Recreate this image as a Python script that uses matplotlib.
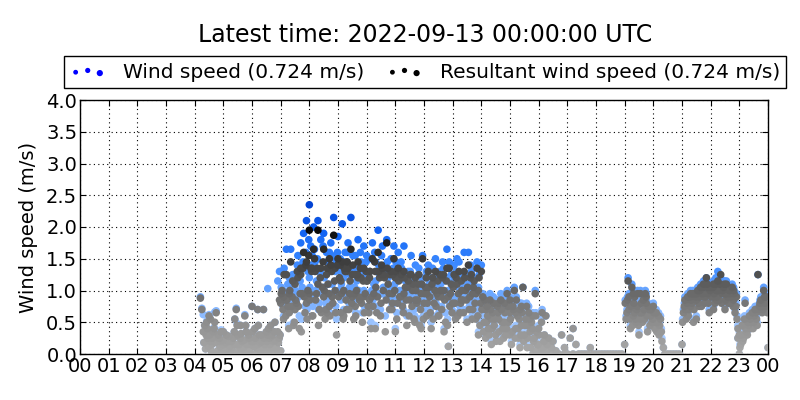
import matplotlib
matplotlib.use("Agg")
import matplotlib.pyplot as plt
from matplotlib.colors import LinearSegmentedColormap, Normalize
from matplotlib.legend_handler import HandlerPathCollection

# (hour of day, wind speed m/s, resultant wind speed m/s)
seg_early = [
    (4.20, 0.90, 0.88), (4.25, 0.72, 0.70), (4.30, 0.62, 0.35), (4.35, 0.45, 0.45),
    (4.40, 0.33, 0.30), (4.45, 0.40, 0.40), (4.45, 0.28, 0.25), (4.50, 0.62, 0.60),
    (4.55, 0.55, 0.55), (4.55, 0.22, 0.20), (4.60, 0.15, 0.15), (4.60, 0.00, 0.00),
    (4.65, 0.36, 0.35), (4.70, 0.66, 0.50), (4.75, 0.68, 0.65), (4.80, 0.05, 0.05),
    (4.85, 0.27, 0.25), (4.90, 0.20, 0.20), (4.90, 0.00, 0.00), (4.95, 0.10, 0.10),
    (5.00, 0.15, 0.15), (5.00, 0.35, 0.35), (5.05, 0.05, 0.05), (5.10, 0.30, 0.30),
    (5.15, 0.10, 0.10), (5.20, 0.20, 0.20), (5.20, 0.00, 0.00), (5.25, 0.05, 0.05),
    (5.30, 0.12, 0.10), (5.35, 0.25, 0.25), (5.40, 0.55, 0.55), (5.45, 0.72, 0.70),
    (5.50, 0.30, 0.30), (5.50, 0.00, 0.00), (5.55, 0.15, 0.15), (5.60, 0.45, 0.45),
    (5.60, 0.10, 0.10), (5.65, 0.20, 0.20), (5.70, 0.10, 0.10), (5.75, 0.62, 0.60),
    (5.80, 0.35, 0.35), (5.80, 0.00, 0.00), (5.85, 0.05, 0.05), (5.90, 0.25, 0.25),
    (5.95, 0.15, 0.15), (6.00, 0.75, 0.75), (6.05, 0.20, 0.20), (6.10, 0.40, 0.40),
    (6.10, 0.00, 0.00), (6.15, 0.10, 0.10), (6.20, 0.70, 0.70), (6.20, 0.15, 0.15),
    (6.25, 0.30, 0.30), (6.30, 0.05, 0.05), (6.35, 0.20, 0.20), (6.40, 0.70, 0.70),
    (6.40, 0.00, 0.00), (6.45, 0.15, 0.15), (6.50, 0.35, 0.35), (6.55, 1.03, 0.30),
    (6.55, 0.10, 0.10), (6.60, 0.25, 0.25), (6.60, 0.05, 0.05), (6.65, 0.45, 0.45),
    (6.70, 0.30, 0.30), (6.70, 0.00, 0.00), (6.75, 0.20, 0.20), (6.80, 0.50, 0.50),
    (6.85, 0.10, 0.10), (6.90, 1.15, 0.35), (6.95, 0.25, 0.25), (7.00, 0.05, 0.05),
]
seg_early_b = [
    (4.32, 0.18, 0.18), (4.38, 0.08, 0.08), (4.42, 0.52, 0.50), (4.48, 0.12, 0.12),
    (4.52, 0.30, 0.30), (4.58, 0.05, 0.05), (4.62, 0.25, 0.25), (4.68, 0.42, 0.40),
    (4.72, 0.18, 0.18), (4.78, 0.02, 0.02), (4.82, 0.32, 0.30), (4.88, 0.12, 0.12),
    (4.92, 0.38, 0.35), (4.98, 0.22, 0.22), (5.02, 0.02, 0.02), (5.08, 0.18, 0.18),
    (5.12, 0.08, 0.08), (5.18, 0.28, 0.28), (5.22, 0.12, 0.12), (5.28, 0.20, 0.20),
    (5.32, 0.02, 0.02), (5.38, 0.35, 0.35), (5.42, 0.15, 0.15), (5.48, 0.48, 0.45),
    (5.52, 0.05, 0.05), (5.58, 0.25, 0.25), (5.62, 0.32, 0.32), (5.68, 0.05, 0.05),
    (5.72, 0.22, 0.22), (5.78, 0.45, 0.45), (5.82, 0.15, 0.15), (5.88, 0.30, 0.30),
    (5.92, 0.05, 0.05), (5.98, 0.20, 0.20), (6.02, 0.35, 0.35), (6.08, 0.12, 0.12),
    (6.12, 0.25, 0.25), (6.18, 0.02, 0.02), (6.22, 0.45, 0.45), (6.28, 0.18, 0.18),
    (6.32, 0.30, 0.30), (6.38, 0.10, 0.10), (6.42, 0.25, 0.25), (6.48, 0.05, 0.05),
    (6.52, 0.20, 0.20), (6.58, 0.40, 0.40), (6.62, 0.15, 0.15), (6.68, 0.28, 0.28),
    (6.72, 0.10, 0.10), (6.78, 0.35, 0.35), (6.82, 0.22, 0.22), (6.88, 0.05, 0.05),
    (6.92, 0.18, 0.18), (6.98, 0.30, 0.30), (6.96, 1.30, 0.85),
]

seg_morning = [
    (7.00, 0.85, 0.80), (7.05, 1.30, 1.00), (7.10, 0.60, 0.55), (7.10, 1.00, 0.90),
    (7.15, 0.90, 0.85), (7.20, 1.65, 1.25), (7.25, 1.10, 0.75), (7.30, 0.70, 0.65),
    (7.30, 1.20, 0.95), (7.35, 1.65, 1.45), (7.40, 1.00, 0.90), (7.45, 0.50, 0.45),
    (7.50, 1.20, 1.10), (7.50, 0.95, 0.70), (7.55, 0.85, 0.80), (7.60, 1.55, 1.20),
    (7.65, 0.60, 0.40), (7.70, 1.75, 1.35), (7.70, 1.35, 1.25), (7.75, 1.05, 0.95),
    (7.80, 1.90, 1.60), (7.85, 0.75, 0.65), (7.90, 2.10, 1.45), (7.90, 1.00, 0.80),
    (7.95, 1.30, 1.00), (8.00, 2.35, 1.95), (8.00, 1.20, 0.95), (8.05, 1.70, 1.35),
    (8.10, 0.90, 0.60), (8.10, 1.55, 1.35), (8.15, 2.00, 1.65), (8.20, 1.45, 1.30),
    (8.25, 1.15, 0.95), (8.30, 2.10, 1.95), (8.30, 1.30, 1.10), (8.35, 0.80, 0.70),
    (8.40, 1.80, 1.35), (8.45, 1.25, 1.05), (8.50, 1.90, 1.65), (8.50, 1.05, 0.90),
    (8.55, 0.70, 0.55), (8.60, 1.60, 1.25), (8.60, 0.85, 0.65), (8.65, 1.35, 1.10),
    (8.70, 0.95, 0.75), (8.70, 1.60, 1.50), (8.75, 1.75, 1.40), (8.80, 1.10, 0.90),
    (8.85, 2.15, 1.87), (8.90, 1.30, 1.00), (8.90, 1.50, 1.35), (8.95, 0.55, 0.30),
    (9.00, 1.85, 1.50), (9.05, 1.40, 1.20), (9.10, 0.85, 0.65), (9.10, 1.30, 1.15),
    (9.15, 2.05, 1.45), (9.20, 1.20, 1.00), (9.20, 0.70, 0.60), (9.25, 1.60, 1.30),
    (9.30, 0.90, 0.70), (9.30, 1.45, 1.30), (9.35, 1.75, 1.35), (9.40, 1.05, 0.95),
    (9.45, 2.15, 1.65), (9.50, 1.35, 1.25), (9.50, 1.05, 0.90), (9.55, 0.75, 0.55),
    (9.60, 1.55, 1.25), (9.60, 0.85, 0.75), (9.65, 1.15, 1.00), (9.70, 1.80, 1.45),
    (9.70, 1.30, 1.20), (9.75, 0.95, 0.85), (9.80, 1.45, 1.20), (9.85, 0.65, 0.50),
    (9.90, 1.70, 1.35), (9.90, 1.00, 0.90), (9.95, 1.20, 0.95),
]
seg_morning_b = [
    (7.02, 1.05, 0.95), (7.08, 0.75, 0.70), (7.12, 1.35, 1.25), (7.18, 0.80, 0.60),
    (7.22, 0.95, 0.85), (7.28, 0.45, 0.40), (7.32, 1.10, 1.00), (7.38, 0.85, 0.75),
    (7.42, 1.25, 1.15), (7.48, 0.70, 0.50), (7.52, 1.00, 0.85), (7.58, 1.40, 1.30),
    (7.62, 0.90, 0.75), (7.68, 1.15, 0.95), (7.72, 0.55, 0.35), (7.78, 1.45, 1.35),
    (7.82, 1.00, 0.90), (7.88, 1.60, 1.40), (7.92, 0.70, 0.55), (7.98, 1.80, 1.55),
    (8.02, 1.05, 0.85), (8.08, 1.40, 1.30), (8.12, 0.75, 0.60), (8.18, 1.65, 1.50),
    (8.22, 1.00, 0.85), (8.28, 1.50, 1.35), (8.32, 0.70, 0.45), (8.38, 1.30, 1.20),
    (8.42, 0.95, 0.65), (8.48, 1.70, 1.45), (8.52, 1.20, 1.00), (8.58, 0.80, 0.70),
    (8.62, 1.45, 1.35), (8.68, 1.10, 0.95), (8.72, 0.65, 0.60), (8.78, 1.55, 1.30),
    (8.82, 0.95, 0.80), (8.88, 1.40, 1.15), (8.92, 0.75, 0.65), (8.98, 1.60, 1.40),
    (9.02, 1.00, 0.90), (9.08, 1.50, 1.40), (9.12, 1.10, 0.95), (9.18, 0.60, 0.55),
    (9.22, 1.45, 1.35), (9.28, 1.00, 0.85), (9.32, 1.60, 1.45), (9.38, 0.80, 0.70),
    (9.42, 1.25, 1.15), (9.48, 0.90, 0.80), (9.52, 1.55, 1.40), (9.58, 1.05, 0.95),
    (9.62, 0.65, 0.60), (9.68, 1.40, 1.25), (9.72, 1.00, 0.90), (9.78, 1.60, 1.35),
    (9.82, 0.90, 0.80), (9.88, 1.30, 1.15), (9.92, 0.75, 0.65), (9.98, 1.45, 1.30),
]

seg_midday = [
    (10.00, 1.55, 1.15), (10.05, 0.90, 0.75), (10.10, 1.30, 1.20), (10.10, 0.95, 0.85),
    (10.15, 0.50, 0.40), (10.20, 1.75, 1.50), (10.25, 1.10, 0.95), (10.30, 1.45, 1.30),
    (10.30, 0.45, 0.40), (10.35, 0.75, 0.65), (10.40, 1.95, 1.60), (10.45, 1.25, 1.20),
    (10.50, 0.95, 0.80), (10.50, 1.30, 1.25), (10.55, 1.70, 1.35), (10.60, 1.35, 1.25),
    (10.65, 0.60, 0.35), (10.70, 1.80, 1.75), (10.75, 1.20, 1.10), (10.80, 0.85, 0.70),
    (10.85, 1.50, 1.30), (10.90, 1.05, 0.95), (10.90, 0.90, 0.80), (10.95, 1.70, 1.50),
    (11.00, 1.30, 1.20), (11.00, 0.40, 0.35), (11.05, 0.65, 0.55), (11.10, 1.60, 1.35),
    (11.15, 1.00, 0.90), (11.20, 1.45, 1.25), (11.25, 0.80, 0.75), (11.30, 1.70, 1.30),
    (11.30, 1.00, 0.95), (11.35, 1.15, 1.05), (11.40, 0.60, 0.45), (11.45, 1.30, 1.15),
    (11.50, 0.95, 0.85), (11.55, 1.55, 1.25), (11.60, 1.10, 1.00), (11.65, 0.70, 0.55),
    (11.70, 1.40, 1.20), (11.70, 0.90, 0.85), (11.75, 0.90, 0.80), (11.80, 1.25, 1.10),
    (11.85, 0.55, 0.45), (11.90, 1.05, 0.95), (11.90, 0.45, 0.40), (11.95, 1.55, 1.50),
    (12.00, 0.85, 0.80), (12.05, 1.20, 1.05), (12.10, 0.70, 0.60), (12.10, 1.00, 0.95),
    (12.15, 1.40, 1.30), (12.20, 1.00, 0.90), (12.25, 0.50, 0.40), (12.30, 1.35, 1.20),
    (12.35, 0.90, 0.80), (12.40, 1.50, 1.30), (12.45, 1.10, 0.95), (12.50, 0.75, 0.60),
    (12.50, 0.95, 0.90), (12.55, 1.30, 1.25), (12.60, 0.95, 0.90), (12.65, 1.45, 1.20),
    (12.70, 1.15, 1.00), (12.70, 0.40, 0.35), (12.75, 0.65, 0.50), (12.80, 1.65, 1.35),
    (12.85, 1.00, 0.90), (12.85, 0.12, 0.12), (12.90, 0.80, 0.75), (12.95, 1.25, 1.10),
    (13.00, 0.85, 0.80), (13.05, 1.40, 1.25), (13.10, 0.60, 0.55), (13.15, 1.50, 1.10),
    (13.20, 1.05, 0.95), (13.25, 0.75, 0.65), (13.30, 1.20, 1.15), (13.30, 0.95, 0.85),
    (13.35, 0.90, 0.85), (13.40, 1.60, 1.30), (13.45, 1.10, 1.00), (13.50, 0.55, 0.50),
    (13.55, 1.60, 1.40), (13.60, 0.95, 0.90), (13.65, 1.30, 1.25), (13.70, 0.80, 0.70),
    (13.70, 1.00, 0.95), (13.75, 1.20, 1.15), (13.80, 0.65, 0.55), (13.85, 1.45, 1.35),
    (13.90, 1.05, 1.00), (13.90, 0.35, 0.30), (13.95, 0.50, 0.45), (14.00, 1.40, 1.30),
]
seg_midday_b = [
    (10.02, 1.25, 1.15), (10.08, 0.70, 0.65), (10.12, 1.50, 1.30), (10.18, 1.00, 0.90),
    (10.22, 0.85, 0.75), (10.28, 1.60, 1.45), (10.32, 1.15, 1.05), (10.38, 0.95, 0.90),
    (10.42, 1.40, 1.30), (10.48, 0.70, 0.60), (10.52, 1.55, 1.40), (10.58, 1.05, 1.00),
    (10.62, 1.25, 1.20), (10.68, 0.90, 0.85), (10.72, 1.45, 1.35), (10.78, 1.00, 0.95),
    (10.82, 1.30, 1.25), (10.88, 0.75, 0.70), (10.92, 1.35, 1.25), (10.98, 1.10, 1.00),
    (11.02, 1.45, 1.30), (11.08, 0.85, 0.80), (11.12, 1.20, 1.15), (11.18, 0.95, 0.90),
    (11.22, 1.35, 1.20), (11.28, 0.70, 0.65), (11.32, 1.25, 1.20), (11.38, 0.90, 0.85),
    (11.42, 1.15, 1.05), (11.48, 0.65, 0.60), (11.52, 1.30, 1.25), (11.58, 0.85, 0.75),
    (11.62, 1.20, 1.10), (11.68, 0.60, 0.50), (11.72, 1.10, 1.00), (11.78, 0.95, 0.85),
    (11.82, 1.35, 1.25), (11.88, 0.75, 0.70), (11.92, 1.20, 1.10), (11.98, 0.60, 0.55),
    (12.02, 1.00, 0.95), (12.08, 1.30, 1.20), (12.12, 0.85, 0.80), (12.18, 1.10, 1.05),
    (12.22, 0.70, 0.65), (12.28, 1.20, 1.10), (12.32, 0.60, 0.55), (12.38, 1.05, 1.00),
    (12.42, 0.80, 0.75), (12.48, 1.25, 1.15), (12.52, 0.65, 0.60), (12.58, 1.10, 1.00),
    (12.62, 0.75, 0.70), (12.68, 1.35, 1.25), (12.72, 0.90, 0.85), (12.78, 1.20, 1.15),
    (12.82, 0.55, 0.45), (12.88, 1.45, 1.35), (12.92, 1.00, 0.95), (12.98, 0.70, 0.65),
    (13.02, 1.15, 1.05), (13.08, 0.90, 0.80), (13.12, 1.30, 1.20), (13.18, 0.65, 0.60),
    (13.22, 1.45, 1.30), (13.28, 0.85, 0.80), (13.32, 1.05, 1.00), (13.38, 0.70, 0.65),
    (13.42, 1.25, 1.20), (13.48, 0.90, 0.85), (13.52, 1.10, 1.05), (13.58, 0.75, 0.70),
    (13.62, 1.40, 1.20), (13.68, 0.60, 0.55), (13.72, 1.15, 1.05), (13.78, 0.85, 0.80),
    (13.82, 1.05, 0.95), (13.88, 0.70, 0.60), (13.92, 1.25, 1.20), (13.98, 0.85, 0.80),
]

seg_afternoon = [
    (14.05, 0.95, 0.90), (14.10, 0.60, 0.50), (14.15, 0.30, 0.25), (14.15, 0.75, 0.70),
    (14.20, 0.80, 0.75), (14.25, 0.45, 0.40), (14.30, 0.95, 0.85), (14.35, 0.20, 0.15),
    (14.35, 0.60, 0.55), (14.40, 0.70, 0.65), (14.45, 0.50, 0.45), (14.50, 0.35, 0.30),
    (14.55, 0.85, 0.75), (14.60, 0.60, 0.55), (14.60, 0.85, 0.80), (14.65, 0.25, 0.20),
    (14.70, 0.75, 0.70), (14.75, 0.45, 0.40), (14.80, 0.90, 0.80), (14.80, 0.55, 0.50),
    (14.85, 0.30, 0.30), (14.90, 1.00, 0.95), (14.95, 0.55, 0.50), (15.00, 0.70, 0.65),
    (15.00, 0.90, 0.85), (15.05, 0.20, 0.15), (15.10, 0.85, 0.75), (15.15, 1.05, 1.00),
    (15.20, 0.45, 0.40), (15.20, 0.70, 0.65), (15.25, 0.65, 0.60), (15.30, 0.25, 0.25),
    (15.35, 0.80, 0.70), (15.35, 0.15, 0.10), (15.40, 0.50, 0.45), (15.40, 0.80, 0.75),
    (15.45, 1.05, 1.05), (15.50, 0.35, 0.30), (15.55, 0.60, 0.55), (15.60, 0.15, 0.10),
    (15.60, 0.50, 0.45), (15.65, 0.75, 0.65), (15.70, 0.40, 0.35), (15.75, 0.55, 0.50),
    (15.80, 0.00, 0.00), (15.80, 0.65, 0.60), (15.85, 0.30, 0.25), (15.90, 0.65, 0.60),
    (15.90, 0.05, 0.05), (15.95, 0.20, 0.15), (16.00, 0.45, 0.40), (16.00, 0.00, 0.00),
    (16.05, 0.05, 0.05), (16.10, 0.55, 0.50), (16.15, 0.10, 0.10), (16.20, 0.30, 0.30),
    (16.20, 0.00, 0.00), (16.25, 0.60, 0.60), (16.30, 0.15, 0.15), (16.40, 0.00, 0.00),
    (16.50, 0.20, 0.20), (16.60, 0.05, 0.05), (16.80, 0.30, 0.30), (16.90, 0.10, 0.10),
    (17.00, 0.00, 0.00), (17.10, 0.25, 0.25), (17.20, 0.40, 0.40), (17.30, 0.15, 0.15),
    (17.40, 0.00, 0.00), (17.50, 0.00, 0.00), (17.60, 0.00, 0.00), (17.70, 0.00, 0.00),
    (17.80, 0.10, 0.10), (17.90, 0.00, 0.00), (18.00, 0.00, 0.00), (18.10, 0.00, 0.00),
    (18.20, 0.00, 0.00), (18.30, 0.00, 0.00), (18.40, 0.00, 0.00), (18.50, 0.00, 0.00),
    (18.60, 0.00, 0.00), (18.70, 0.00, 0.00), (18.80, 0.00, 0.00), (18.90, 0.00, 0.00),
    (16.70, 0.00, 0.00), (16.90, 0.00, 0.00), (17.20, 0.00, 0.00),
]
seg_afternoon_b = [
    (14.02, 0.75, 0.70), (14.08, 0.40, 0.35), (14.12, 0.90, 0.85), (14.18, 0.55, 0.50),
    (14.22, 0.65, 0.60), (14.28, 0.35, 0.30), (14.32, 0.75, 0.70), (14.38, 0.45, 0.40),
    (14.42, 0.90, 0.80), (14.48, 0.60, 0.55), (14.52, 0.25, 0.20), (14.58, 0.70, 0.65),
    (14.62, 0.40, 0.35), (14.68, 0.95, 0.85), (14.72, 0.55, 0.50), (14.78, 0.30, 0.25),
    (14.82, 0.70, 0.65), (14.88, 0.45, 0.40), (14.92, 0.80, 0.75), (14.98, 0.35, 0.30),
    (15.02, 0.60, 0.55), (15.08, 0.40, 0.35), (15.12, 0.75, 0.70), (15.18, 0.30, 0.25),
    (15.22, 0.90, 0.85), (15.28, 0.45, 0.40), (15.32, 0.60, 0.55), (15.38, 0.35, 0.30),
    (15.42, 0.70, 0.65), (15.48, 0.20, 0.20), (15.52, 0.50, 0.45), (15.58, 0.80, 0.75),
    (15.62, 0.30, 0.25), (15.68, 0.60, 0.55), (15.72, 0.10, 0.10), (15.78, 0.45, 0.40),
    (15.82, 0.25, 0.20), (15.88, 1.00, 0.95), (15.92, 0.40, 0.35), (15.98, 0.15, 0.15),
    (16.02, 0.30, 0.30), (16.08, 0.10, 0.10), (16.12, 0.70, 0.65), (16.18, 0.20, 0.20),
    (16.28, 0.05, 0.05), (16.35, 0.25, 0.25), (16.45, 0.10, 0.10),
]

seg_evening = [
    (19.00, 0.15, 0.15), (19.05, 0.60, 0.55), (19.10, 0.90, 0.85), (19.15, 0.75, 0.70),
    (19.15, 0.95, 0.90), (19.20, 0.45, 0.40), (19.25, 1.10, 1.05), (19.30, 0.65, 0.60),
    (19.30, 1.00, 0.95), (19.35, 0.95, 0.90), (19.35, 0.70, 0.65), (19.40, 0.55, 0.50),
    (19.45, 0.80, 0.75), (19.45, 1.00, 0.95), (19.50, 0.35, 0.30), (19.55, 1.00, 0.95),
    (19.55, 0.60, 0.55), (19.60, 0.70, 0.65), (19.65, 0.90, 0.85), (19.70, 0.60, 0.55),
    (19.75, 0.85, 0.80), (19.75, 0.95, 0.90), (19.80, 0.40, 0.35), (19.85, 0.75, 0.70),
    (19.90, 0.65, 0.60), (19.95, 0.55, 0.50), (20.00, 0.80, 0.75), (20.05, 0.45, 0.40),
    (20.10, 0.70, 0.65), (20.15, 0.55, 0.50), (20.20, 0.35, 0.30), (20.25, 0.60, 0.55),
    (20.30, 0.25, 0.20), (20.35, 0.10, 0.10), (20.40, 0.00, 0.00), (20.50, 0.00, 0.00),
    (20.60, 0.00, 0.00), (20.70, 0.00, 0.00), (20.80, 0.00, 0.00), (20.90, 0.00, 0.00),
]
seg_evening_b = [
    (19.02, 0.85, 0.80), (19.08, 0.70, 0.65), (19.12, 1.20, 1.15), (19.18, 0.60, 0.55),
    (19.22, 0.80, 0.75), (19.28, 0.50, 0.45), (19.32, 0.85, 0.80), (19.38, 0.60, 0.55),
    (19.42, 0.75, 0.70), (19.48, 0.50, 0.45), (19.52, 0.70, 0.65), (19.58, 0.85, 0.80),
    (19.62, 0.55, 0.50), (19.68, 0.75, 0.70), (19.72, 1.00, 0.95), (19.78, 0.65, 0.60),
    (19.82, 0.80, 0.75), (19.88, 0.50, 0.45), (19.92, 0.75, 0.70), (19.98, 0.60, 0.55),
    (20.02, 0.70, 0.65), (20.08, 0.55, 0.50), (20.12, 0.40, 0.35), (20.18, 0.65, 0.60),
    (20.22, 0.50, 0.45), (20.28, 0.40, 0.35),
]

seg_night = [
    (21.00, 0.15, 0.15), (21.05, 0.70, 0.65), (21.10, 0.90, 0.85), (21.15, 0.60, 0.55),
    (21.20, 0.95, 0.90), (21.25, 0.75, 0.70), (21.30, 1.00, 0.95), (21.30, 0.80, 0.75),
    (21.35, 0.85, 0.80), (21.40, 0.55, 0.50), (21.45, 1.00, 0.95), (21.50, 0.90, 0.85),
    (21.50, 0.60, 0.55), (21.55, 1.05, 1.00), (21.60, 0.80, 0.75), (21.60, 0.95, 0.90),
    (21.65, 1.10, 1.05), (21.70, 0.95, 0.90), (21.75, 1.15, 1.10), (21.80, 0.85, 0.80),
    (21.85, 1.20, 1.20), (21.90, 1.00, 0.95), (21.90, 1.10, 1.05), (21.95, 0.70, 0.65),
    (22.00, 1.10, 1.05), (22.05, 0.95, 0.90), (22.10, 1.15, 1.10), (22.10, 0.75, 0.70),
    (22.15, 0.85, 0.80), (22.20, 1.05, 1.00), (22.20, 0.90, 0.85), (22.25, 1.30, 1.15),
    (22.30, 0.90, 0.85), (22.35, 1.20, 1.25), (22.40, 1.00, 0.95), (22.45, 1.10, 1.05),
    (22.50, 0.75, 0.70), (22.50, 1.00, 0.95), (22.55, 1.15, 1.10), (22.60, 0.95, 0.90),
    (22.65, 1.05, 1.00), (22.70, 0.85, 0.80), (22.75, 1.10, 1.05), (22.80, 0.90, 0.85),
    (22.80, 1.05, 1.00), (22.85, 0.70, 0.65), (22.90, 0.95, 0.90), (22.95, 0.45, 0.40),
    (22.95, 0.25, 0.25), (23.00, 0.35, 0.30), (23.00, 0.00, 0.00), (23.05, 0.20, 0.15),
    (23.10, 0.50, 0.45), (23.15, 0.30, 0.25), (23.20, 0.85, 0.80), (23.25, 0.40, 0.35),
    (23.30, 0.55, 0.50), (23.35, 0.65, 0.60), (23.40, 0.45, 0.40), (23.45, 0.70, 0.65),
    (23.50, 0.55, 0.50), (23.55, 0.75, 0.70), (23.60, 0.60, 0.55), (23.65, 1.25, 1.25),
    (23.70, 0.80, 0.75), (23.75, 0.90, 0.85), (23.80, 0.70, 0.65), (23.85, 1.05, 1.00),
    (23.90, 0.85, 0.80), (23.95, 0.95, 0.90), (24.00, 0.10, 0.10),
]
seg_night_b = [
    (21.02, 0.55, 0.50), (21.08, 0.80, 0.75), (21.12, 0.75, 0.70), (21.18, 0.85, 0.80),
    (21.22, 0.65, 0.60), (21.28, 0.95, 0.90), (21.32, 0.90, 0.85), (21.38, 1.00, 0.95),
    (21.42, 0.75, 0.70), (21.48, 0.95, 0.90), (21.52, 1.00, 0.95), (21.58, 0.85, 0.80),
    (21.62, 1.05, 1.00), (21.68, 0.80, 0.75), (21.72, 1.00, 0.95), (21.78, 1.10, 1.05),
    (21.82, 0.95, 0.90), (21.88, 1.15, 1.10), (21.92, 0.85, 0.80), (21.98, 1.05, 1.00),
    (22.02, 0.95, 0.90), (22.08, 1.10, 1.05), (22.12, 1.00, 0.95), (22.18, 1.20, 1.10),
    (22.22, 0.95, 0.90), (22.28, 1.05, 1.00), (22.32, 1.15, 1.10), (22.38, 0.85, 0.80),
    (22.42, 1.05, 1.00), (22.48, 1.15, 1.10), (22.52, 0.90, 0.85), (22.58, 1.00, 0.95),
    (22.62, 0.85, 0.80), (22.68, 1.00, 0.95), (22.72, 0.95, 0.90), (22.78, 0.80, 0.75),
    (22.82, 1.00, 0.95), (22.88, 0.80, 0.75), (22.92, 0.60, 0.55), (23.02, 0.15, 0.10),
    (23.08, 0.35, 0.30), (23.12, 0.25, 0.20), (23.18, 0.60, 0.55), (23.22, 0.45, 0.40),
    (23.28, 0.35, 0.30), (23.32, 0.50, 0.45), (23.38, 0.60, 0.55), (23.42, 0.55, 0.50),
    (23.48, 0.45, 0.40), (23.52, 0.65, 0.60), (23.58, 0.70, 0.65), (23.62, 0.50, 0.45),
    (23.68, 0.75, 0.70), (23.72, 0.85, 0.80), (23.78, 0.80, 0.75), (23.82, 0.75, 0.70),
    (23.88, 0.95, 0.90), (23.92, 0.80, 0.75), (23.98, 0.70, 0.65),
]

segments = [seg_early, seg_early_b, seg_morning, seg_morning_b, seg_midday, seg_midday_b,
            seg_afternoon, seg_afternoon_b, seg_evening, seg_evening_b, seg_night, seg_night_b]
points = sorted((p for seg in segments for p in seg), key=lambda p: p[2])
hours = [p[0] for p in points]
wind_speed = [p[1] for p in points]
resultant_speed = [p[2] for p in points]

tick_labels = ["%02d" % (h % 24) for h in range(25)]
title = "Latest time: 2022-09-13 00:00:00 UTC"
legend_labels = ["Wind speed (0.724 m/s)", "Resultant wind speed (0.724 m/s)"]

blue_cmap = LinearSegmentedColormap.from_list(
    "blues", ["#b4d2ff", "#9cc4ff", "#6aa6ff", "#3a88ff", "#1163f2", "#0040d0"])
gray_cmap = LinearSegmentedColormap.from_list(
    "grays", ["#aaaaaa", "#8e8e8e", "#666666", "#3a3a3a", "#050505"])

fig = plt.figure(figsize=(8, 4), dpi=100)
ax = fig.add_axes([0.1, 0.115, 0.86, 0.635])

ax.scatter(hours, wind_speed, c=wind_speed, cmap=blue_cmap,
           norm=Normalize(0, 2.4), s=30, linewidths=0, zorder=3)
ax.scatter(hours, resultant_speed, c=resultant_speed, cmap=gray_cmap,
           norm=Normalize(0, 2.0), s=30, linewidths=0, zorder=4)

ax.set_xlim(0, 24)
ax.set_ylim(0, 4.0)
ax.set_xticks(range(25))
ax.set_xticklabels(tick_labels)
yt = [0, 0.5, 1.0, 1.5, 2.0, 2.5, 3.0, 3.5, 4.0]
ax.set_yticks(yt)
ax.set_yticklabels(["%.1f" % v for v in yt])
ax.tick_params(direction="in", top=True, right=True, labelsize=14, length=4, pad=2)
ax.grid(True, linestyle=(0, (1, 3)), color="black", linewidth=0.8, zorder=1)
ax.set_axisbelow(True)
ax.set_ylabel("Wind speed (m/s)", fontsize=14, labelpad=6)
for sp in ax.spines.values():
    sp.set_linewidth(1.0)

h1 = ax.scatter([], [], c="#0000ff", s=16, linewidths=0)
h2 = ax.scatter([], [], c="#000000", s=16, linewidths=0)
hm = {h1: HandlerPathCollection(sizes=[12, 14, 20]),
      h2: HandlerPathCollection(sizes=[12, 14, 20])}
leg = fig.legend([h1, h2], legend_labels, loc="center", bbox_to_anchor=(0.531, 0.82),
                 ncol=2, fontsize=14.5, scatterpoints=3, frameon=True, fancybox=False,
                 edgecolor="black", borderpad=0.3, columnspacing=1.1, handletextpad=0.85,
                 handlelength=1.8, handler_map=hm, framealpha=1, borderaxespad=0)
leg.get_frame().set_linewidth(1.0)

fig.text(0.531, 0.912, title, ha="center", va="center", fontsize=17)

fig.savefig("out.png", dpi=100)
